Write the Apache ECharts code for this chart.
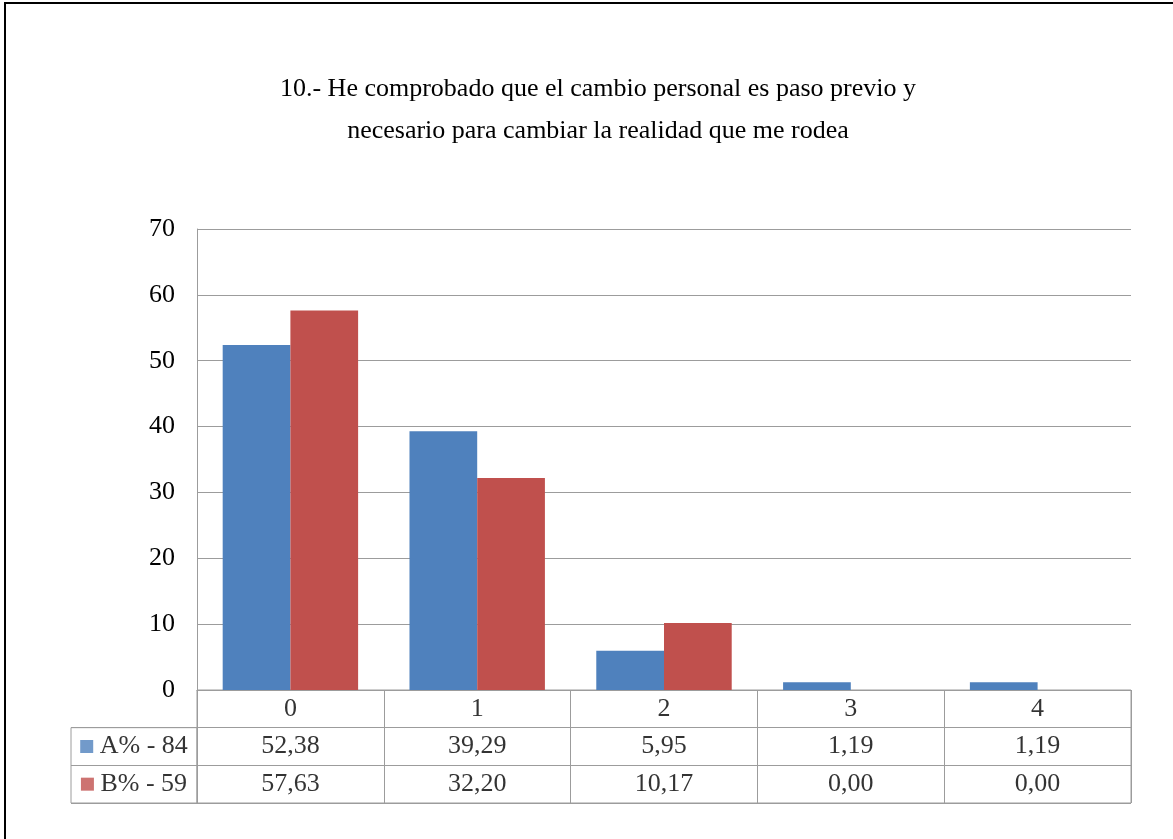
<!DOCTYPE html>
<html>
<head>
<meta charset="utf-8">
<script src="https://cdn.jsdelivr.net/npm/echarts@6/dist/echarts.min.js"></script>
<style>
  html, body { margin: 0; padding: 0; background: #fff; }
  #chart { width: 1173px; height: 839px; }
</style>
</head>
<body>
<div id="chart"></div>
<script>
// Categories (scale points) and the two response percentages
const categories = ['0', '1', '2', '3', '4'];
const seriesAName = 'A% - 84';
const seriesBName = 'B% - 59';
const valuesA = [52.38, 39.29, 5.95, 1.19, 1.19];
const valuesB = [57.63, 32.20, 10.17, 0.00, 0.00];
const yTicks = [0, 10, 20, 30, 40, 50, 60, 70];
const titleLines = [
  '10.- He comprobado que el cambio personal es paso previo y',
  'necesario para cambiar la realidad que me rodea'
];

const BLUE = '#4F81BD';
const RED = '#C0504D';
const GRID_LINE = '#9c9c9c';
const FONT = '"Liberation Serif", "DejaVu Serif", serif';
const FONT_SIZE = 26;

const fmt = v => v.toFixed(2).replace('.', ',');

// Data-table cells: header row (0), row A (1), row B (2)
const tableCells = [];
categories.forEach((c, i) => {
  tableCells.push({ value: [i, 0], text: c });
  tableCells.push({ value: [i, 1], text: fmt(valuesA[i]) });
  tableCells.push({ value: [i, 2], text: fmt(valuesB[i]) });
});
const legendCells = [
  { value: [0, 0], text: '{a|}{t| ' + seriesAName + '}' },
  { value: [0, 1], text: '{b|}{t| ' + seriesBName + '}' }
];

const chart = echarts.init(document.getElementById('chart'), null, { renderer: 'canvas' });

const PLOT_LEFT = 197, PLOT_RIGHT = 1131, PLOT_TOP = 229, PLOT_BOTTOM = 690;
const TABLE_BOTTOM = 803, LEGEND_LEFT = 71;

chart.setOption({
  animation: false,
  backgroundColor: '#fff',
  title: {
    text: titleLines.join('\n'),
    left: 593,
    textAlign: 'center',
    top: 63,
    textStyle: {
      fontFamily: FONT,
      fontSize: FONT_SIZE,
      fontWeight: 'normal',
      color: '#000',
      lineHeight: 42
    }
  },
  graphic: [{
    type: 'rect',
    shape: { x: 5, y: 3, width: 1200, height: 900 },
    style: { fill: 'none', stroke: '#000', lineWidth: 2 },
    silent: true
  }],
  grid: [
    { // bar plot
      left: PLOT_LEFT, top: PLOT_TOP,
      width: PLOT_RIGHT - PLOT_LEFT, height: PLOT_BOTTOM - PLOT_TOP
    },
    { // data table values
      left: PLOT_LEFT, top: PLOT_BOTTOM,
      width: PLOT_RIGHT - PLOT_LEFT, height: TABLE_BOTTOM - PLOT_BOTTOM,
      show: true, borderColor: GRID_LINE, borderWidth: 1, backgroundColor: 'transparent'
    },
    { // data table series keys
      left: LEGEND_LEFT, top: PLOT_BOTTOM + (TABLE_BOTTOM - PLOT_BOTTOM) / 3,
      width: PLOT_LEFT - LEGEND_LEFT, height: (TABLE_BOTTOM - PLOT_BOTTOM) * 2 / 3,
      show: true, borderColor: GRID_LINE, borderWidth: 1, backgroundColor: 'transparent'
    }
  ],
  xAxis: [
    {
      gridIndex: 0, type: 'category', data: categories,
      axisLine: { show: true, lineStyle: { color: GRID_LINE, width: 1 } },
      axisTick: { show: false }, axisLabel: { show: false }, splitLine: { show: false }
    },
    {
      gridIndex: 1, type: 'category', data: categories,
      axisLine: { show: false }, axisTick: { show: false }, axisLabel: { show: false },
      splitLine: { show: true, lineStyle: { color: GRID_LINE, width: 1 } }
    },
    {
      gridIndex: 2, type: 'category', data: ['key'],
      axisLine: { show: false }, axisTick: { show: false }, axisLabel: { show: false },
      splitLine: { show: false }
    }
  ],
  yAxis: [
    {
      gridIndex: 0, type: 'value', min: yTicks[0], max: yTicks[yTicks.length - 1], interval: 10,
      axisLine: { show: true, lineStyle: { color: GRID_LINE, width: 1 } },
      axisTick: { show: false },
      axisLabel: { fontFamily: FONT, fontSize: FONT_SIZE, color: '#000', margin: 22 },
      splitLine: { show: true, lineStyle: { color: GRID_LINE, width: 1 } }
    },
    {
      gridIndex: 1, type: 'category', data: ['hdr', 'A', 'B'], inverse: true,
      axisLine: { show: false }, axisTick: { show: false }, axisLabel: { show: false },
      splitLine: { show: true, lineStyle: { color: GRID_LINE, width: 1 } }
    },
    {
      gridIndex: 2, type: 'category', data: ['A', 'B'], inverse: true,
      axisLine: { show: false }, axisTick: { show: false }, axisLabel: { show: false },
      splitLine: { show: true, lineStyle: { color: GRID_LINE, width: 1 } }
    }
  ],
  series: [
    {
      name: seriesAName, type: 'bar', xAxisIndex: 0, yAxisIndex: 0,
      data: valuesA, itemStyle: { color: BLUE },
      barGap: '0%', barCategoryGap: '27.5%'
    },
    {
      name: seriesBName, type: 'bar', xAxisIndex: 0, yAxisIndex: 0,
      data: valuesB, itemStyle: { color: RED },
      barGap: '0%', barCategoryGap: '27.5%'
    },
    {
      type: 'scatter', xAxisIndex: 1, yAxisIndex: 1,
      data: tableCells, symbolSize: 1, itemStyle: { color: 'transparent' },
      silent: true,
      label: {
        show: true, position: 'inside',
        formatter: p => p.data.text,
        fontFamily: FONT, fontSize: FONT_SIZE, color: '#000'
      }
    },
    {
      type: 'scatter', xAxisIndex: 2, yAxisIndex: 2,
      data: legendCells, symbolSize: 1, itemStyle: { color: 'transparent' },
      silent: true,
      label: {
        show: true, position: 'inside',
        formatter: p => p.data.text,
        rich: {
          a: { backgroundColor: BLUE, width: 13, height: 13 },
          b: { backgroundColor: RED, width: 13, height: 13 },
          t: { fontFamily: FONT, fontSize: FONT_SIZE, color: '#000' }
        }
      }
    }
  ]
});
</script>
</body>
</html>
